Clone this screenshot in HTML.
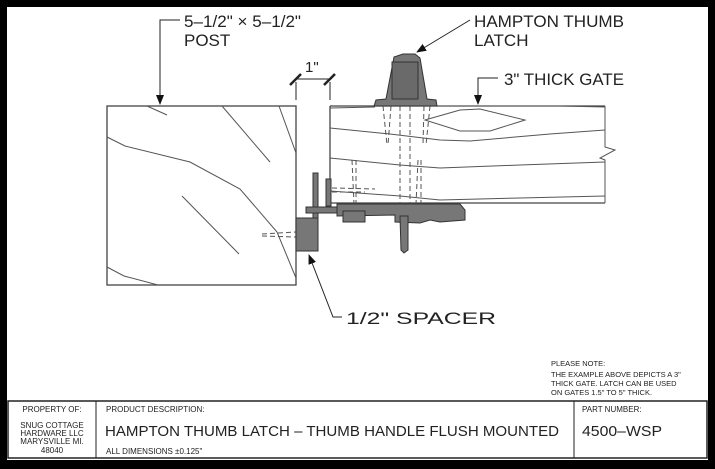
<!DOCTYPE html>
<html><head><style>
html,body{margin:0;padding:0;background:#000;}
svg{display:block;}
text{font-family:"Liberation Sans",sans-serif;fill:#222;}
</style></head><body>
<svg width="715" height="469" viewBox="0 0 715 469" xmlns="http://www.w3.org/2000/svg">
<rect x="0" y="0" width="715" height="469" fill="#000"/>
<rect x="7" y="7" width="701" height="453" fill="#fff"/>
<defs><marker id="ar" markerWidth="10" markerHeight="8" refX="9" refY="4" orient="auto" markerUnits="userSpaceOnUse"><path d="M0,0 L10,4 L0,8z" fill="#111" stroke="none"/></marker></defs>
<g stroke="#555" fill="none" stroke-width="1">
<rect x="107" y="106" width="189" height="179" stroke="#444" stroke-width="1.3"/>
<path d="M107,137 L125,146 L190,162 L240,189 L277,232 L296,278"/>
<path d="M107,267 L124,276 L158,285"/>
<path d="M147,106 L167,115"/>
<path d="M222,106 L270,162"/>
<path d="M279,106 L296,153"/>
<path d="M182,196 L239,254"/>
<path d="M330,106 L605,106 M330,106 L330,203 L605,203" stroke="#444" stroke-width="1.3"/>
<path d="M605,106 L605,147 L615,150 L600,158 L605,160 L605,203" stroke="#555"/>
<path d="M330,108 L375,107 M437,106 L560,106 L605,107"/>
<path d="M330,128 L390,134 L440,140 L470,141 L550,134 L605,130"/>
<path d="M425,120 L460,110 L480,109 L525,120 L490,131 L460,131 Z"/>
<path d="M330,158 L400,165 L440,168 L520,165 L605,162"/>
<path d="M330,191 L400,196 L440,200 L520,198 L605,196"/>
<g stroke-dasharray="5,3">
<path d="M383,106 L387,145 M391,106 L388,145 M424,106 L423,145 M430,106 L426,145"/>
<path d="M400,106 L400,204 M410,106 L410,204"/>
<path d="M352,160 L354,204 M356,160 L356,204 M418,160 L416,204 M421,160 L421,204"/>
<path d="M332,188 L375,189 M332,192 L365,192"/>
<path d="M262,234 L296,232 M262,236 L296,237"/>
</g>
</g>
<g fill="#777" stroke="#333" stroke-width="1">
<path d="M374,106 L376,100 L386,99 L394,57 L403,54 L415,54 L420,58 L427,99 L436,100 L437,106 Z"/>
<rect x="392" y="62" width="26" height="37" fill="#6a6a6a"/>
<rect x="326" y="179" width="5" height="27"/>
<rect x="313" y="173" width="5" height="78"/>
<rect x="296" y="218" width="22" height="33" fill="#777"/>
<rect x="306" y="207" width="32" height="6"/>
<path d="M337,204 L460,204 L465,210 L465,220 L440,222 L430,220 L420,223 L395,222 L395,215 L337,216 Z"/>
<rect x="343" y="211" width="22" height="11"/>
<path d="M400,216 L408,216 L408,250 L404,253 L401,250 Z"/>
</g>
<g stroke="#222" stroke-width="1" fill="none">
<path d="M295,79 L330,79 M296,82 L296,100 M330,82 L330,100"/>
<path d="M290,85 L301,74 M324,85 L335,74" stroke-width="2.5"/>
<path d="M180,20 L160,20 L160,104" marker-end="url(#ar)"/>
<path d="M470,20 L417,52" marker-end="url(#ar)"/>
<path d="M498,78 L478,78 L478,104" marker-end="url(#ar)"/>
<path d="M342,317 L333,317 L309,255" marker-end="url(#ar)"/>
</g>
<g font-size="17" fill="#333">
<text x="184" y="27" textLength="117" lengthAdjust="spacingAndGlyphs">5–1/2" × 5–1/2"</text>
<text x="184" y="46">POST</text>
<text x="474" y="27" textLength="150" lengthAdjust="spacingAndGlyphs">HAMPTON THUMB</text>
<text x="474" y="46">LATCH</text>
<text x="504" y="85" textLength="120" lengthAdjust="spacingAndGlyphs">3" THICK GATE</text>
<text x="305" y="72" font-size="15">1"</text>
<text x="346" y="324" textLength="150" lengthAdjust="spacingAndGlyphs">1/2" SPACER</text>
</g>
<g font-size="7.5">
<text x="551" y="366">PLEASE NOTE:</text>
<text x="551" y="377">THE EXAMPLE ABOVE DEPICTS A 3"</text>
<text x="551" y="386">THICK GATE. LATCH CAN BE USED</text>
<text x="551" y="395">ON GATES 1.5" TO 5" THICK.</text>
</g>
<g stroke="#222" fill="none">
<rect x="8" y="401" width="699" height="57" stroke-width="1.5"/>
<path d="M96,401 L96,458 M574,401 L574,458"/>
</g>
<g font-size="8">
<text x="52" y="412" text-anchor="middle">PROPERTY OF:</text>
<text x="52" y="428" text-anchor="middle">SNUG COTTAGE</text>
<text x="52" y="436" text-anchor="middle">HARDWARE LLC</text>
<text x="52" y="444" text-anchor="middle">MARYSVILLE MI.</text>
<text x="52" y="453" text-anchor="middle">48040</text>
<text x="106" y="412">PRODUCT DESCRIPTION:</text>
<text x="106" y="454">ALL DIMENSIONS ±0.125"</text>
<text x="582" y="412">PART NUMBER:</text>
</g>
<text x="105" y="436" font-size="15" fill="#333" textLength="454" lengthAdjust="spacingAndGlyphs">HAMPTON THUMB LATCH – THUMB HANDLE FLUSH MOUNTED</text>
<text x="582" y="436" font-size="15" fill="#333" textLength="80" lengthAdjust="spacingAndGlyphs">4500–WSP</text>
</svg>
</body></html>
